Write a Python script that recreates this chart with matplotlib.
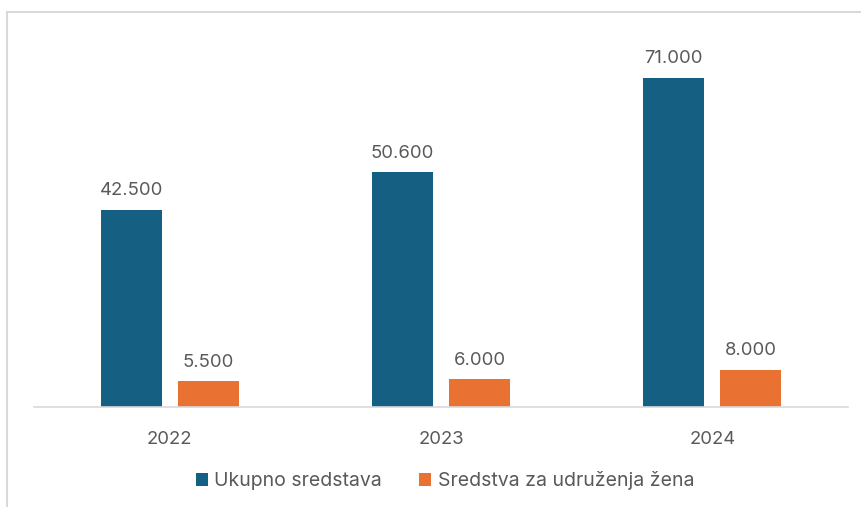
import matplotlib.pyplot as plt
import matplotlib.patches as mpatches
import numpy as np

years = ['2022', '2023', '2024']
ukupno = [42500, 50600, 71000]
zene = [5500, 6000, 8000]
labels_ukupno = ['42.500', '50.600', '71.000']
labels_zene = ['5.500', '6.000', '8.000']

blue = '#156082'
orange = '#E97132'
gray = '#595959'

plt.rcParams['font.family'] = ['Inter', 'DejaVu Sans']

W, H = 861, 507
fig = plt.figure(figsize=(W / 100, H / 100), dpi=100)

# outer chart border (only left/top visible, rest cropped)
fig.patches.append(mpatches.Rectangle((7 / W, -0.1), 1.2, (H - 12) / H + 0.1,
                                      transform=fig.transFigure, fill=False,
                                      edgecolor='#d9d9d9', linewidth=1.5))

ax = fig.add_axes([34 / W, (H - 407) / H, (848 - 34) / W, (407 - 36) / H])
x = np.arange(len(years))
w = 0.225
off = 0.142
b1 = ax.bar(x - off, ukupno, w, color=blue, label='Ukupno sredstava')
b2 = ax.bar(x + off, zene, w, color=orange, label='Sredstva za udruženja žena')

for rect, t in zip(b1, labels_ukupno):
    ax.annotate(t, (rect.get_x() + rect.get_width() / 2, rect.get_height()),
                xytext=(0, 7.5), textcoords='offset points', ha='center', va='bottom',
                fontsize=13.3, color=gray)
for rect, t in zip(b2, labels_zene):
    ax.annotate(t, (rect.get_x() + rect.get_width() / 2, rect.get_height()),
                xytext=(0, 7.5), textcoords='offset points', ha='center', va='bottom',
                fontsize=13.3, color=gray)

ax.set_xlim(-0.5, 2.5)
ax.set_ylim(0, 80000)
ax.set_xticks(x)
ax.set_xticklabels(years, fontsize=13.3, color=gray)
ax.tick_params(axis='x', length=0, pad=17)
ax.set_yticks([])
for s in ['top', 'right', 'left']:
    ax.spines[s].set_visible(False)
ax.spines['bottom'].set_color('#d9d9d9')
ax.spines['bottom'].set_linewidth(1.2)

fig.legend(handles=[b1, b2], loc='center', bbox_to_anchor=(445 / W, (H - 481) / H),
           ncol=2, frameon=False, fontsize=14.0, labelcolor=gray,
           handlelength=0.6, handleheight=0.6, handletextpad=0.35, columnspacing=1.9)

fig.savefig('out.png', dpi=100)
